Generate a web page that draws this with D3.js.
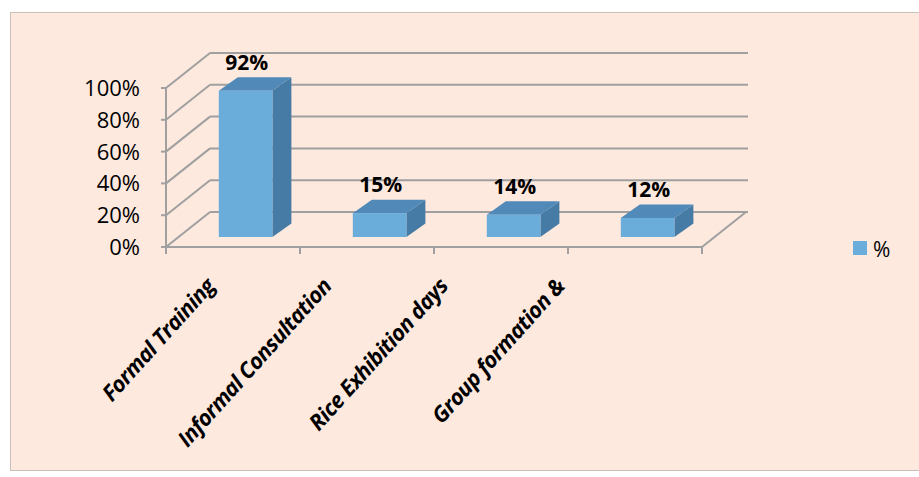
<!DOCTYPE html>
<html>
<head>
<meta charset="utf-8">
<script src="https://cdn.jsdelivr.net/npm/d3@7"></script>
<style>
  body { margin: 0; background: #fff; }
  text { font-family: "Open Sans", sans-serif; }
</style>
</head>
<body>
<div id="chart"></div>
<script>
// data
const categories = ["Formal Training", "Informal Consultation", "Rice Exhibition days", "Group formation &"];
const values = [0.92, 0.15, 0.14, 0.12];
const valueLabels = ["92%", "15%", "14%", "12%"];
const tickValues = [0, 0.2, 0.4, 0.6, 0.8, 1.0];
const seriesName = "%";

const W = 919, H = 477;
const svg = d3.select("#chart").append("svg")
    .attr("width", W)
    .attr("height", H);

// chart area background + border
svg.append("rect")
    .attr("x", 10.5).attr("y", 12.5)
    .attr("width", 920).attr("height", 458)
    .attr("fill", "#fde9de")
    .attr("stroke", "#c9c0b8")
    .attr("stroke-width", 1);

// front plane of the 3D box
const x = d3.scaleBand()
    .domain(categories)
    .range([166, 702])
    .paddingInner(0)
    .paddingOuter(0);

const y = d3.scaleLinear()
    .domain([0, 1])
    .range([247, 88]);

// depth offset from front to back wall
const depth = {dx: 44, dy: -35};
const gridColor = "#a0a0a0";

const grid = svg.append("g");

// back wall horizontal lines
grid.selectAll(".back")
    .data(tickValues)
    .join("line")
    .attr("x1", 166 + depth.dx)
    .attr("x2", 702 + depth.dx + 2)
    .attr("y1", d => y(d) + depth.dy)
    .attr("y2", d => y(d) + depth.dy)
    .attr("stroke", gridColor)
    .attr("stroke-width", 2);

// side wall diagonals
grid.selectAll(".side")
    .data(tickValues)
    .join("line")
    .attr("x1", 166)
    .attr("x2", 166 + depth.dx)
    .attr("y1", d => y(d))
    .attr("y2", d => y(d) + depth.dy)
    .attr("stroke", gridColor)
    .attr("stroke-width", 2);

// floor: front edge and right edge
grid.append("line")
    .attr("x1", 166).attr("x2", 702)
    .attr("y1", y(0)).attr("y2", y(0))
    .attr("stroke", gridColor).attr("stroke-width", 2);
grid.append("line")
    .attr("x1", 702).attr("x2", 702 + depth.dx)
    .attr("y1", y(0)).attr("y2", y(0) + depth.dy)
    .attr("stroke", gridColor).attr("stroke-width", 2);

// vertical value axis
grid.append("line")
    .attr("x1", 166).attr("x2", 166)
    .attr("y1", y(1)).attr("y2", y(0) + 6)
    .attr("stroke", gridColor).attr("stroke-width", 2);

// value ticks
grid.selectAll(".ytick")
    .data(tickValues)
    .join("line")
    .attr("x1", 161).attr("x2", 166)
    .attr("y1", d => y(d)).attr("y2", d => y(d))
    .attr("stroke", gridColor).attr("stroke-width", 2);

// category tick marks
const catTicks = categories.map(c => x(c)).concat([x(categories[categories.length - 1]) + x.bandwidth()]);
grid.selectAll(".xtick")
    .data(catTicks)
    .join("line")
    .attr("x1", d => d).attr("x2", d => d)
    .attr("y1", y(0)).attr("y2", y(0) + 7)
    .attr("stroke", gridColor).attr("stroke-width", 2);

// value tick labels
svg.append("g").selectAll("text")
    .data(tickValues)
    .join("text")
    .attr("x", 140)
    .attr("y", d => y(d) + 8)
    .attr("text-anchor", "end")
    .attr("font-size", 22)
    .attr("fill", "#000")
    .text(d => d3.format(".0%")(d));

// bars
const barShift = {dx: 12.6, dy: -10};   // bars sit a bit behind the front plane
const barDepth = {dx: 19, dy: -13.5};
const barW = x.bandwidth() * 0.4;
const yBar = y.copy().range([y(0) + barShift.dy, y(1) + barShift.dy]);

const bars = svg.append("g").selectAll("g")
    .data(categories.map((c, i) => ({c, v: values[i], label: valueLabels[i]})))
    .join("g");

bars.each(function (d) {
    const g = d3.select(this);
    const x0 = x(d.c) + (x.bandwidth() - barW) / 2 + barShift.dx;
    const x1 = x0 + barW;
    const yT = yBar(d.v), yB = yBar(0);
    // side face
    g.append("path")
        .attr("d", `M${x1},${yT}L${x1 + barDepth.dx},${yT + barDepth.dy}L${x1 + barDepth.dx},${yB + barDepth.dy}L${x1},${yB}Z`)
        .attr("fill", "#467ba5");
    // top face
    g.append("path")
        .attr("d", `M${x0},${yT}L${x0 + barDepth.dx},${yT + barDepth.dy}L${x1 + barDepth.dx},${yT + barDepth.dy}L${x1},${yT}Z`)
        .attr("fill", "#5189b9");
    // front face
    g.append("rect")
        .attr("x", x0).attr("y", yT)
        .attr("width", barW).attr("height", yB - yT)
        .attr("fill", "#6badda");
    // value label
    g.append("text")
        .attr("x", (x0 + x1) / 2 + 1)
        .attr("y", yT - 21)
        .attr("text-anchor", "middle")
        .attr("font-size", 21)
        .attr("font-weight", "bold")
        .attr("fill", "#000")
        .text(d.label);
});

// category labels (rotated)
const xLabel = d3.scalePoint()
    .domain(categories)
    .range([216, 566]);

svg.append("g").selectAll("text")
    .data(categories)
    .join("text")
    .attr("transform", d => `translate(${xLabel(d)},${287}) rotate(-48)`)
    .attr("text-anchor", "end")
    .attr("font-size", 22)
    .attr("font-weight", "bold")
    .attr("font-style", "italic")
    .attr("letter-spacing", -0.6)
    .attr("fill", "#000")
    .text(d => d);

// legend
const legend = svg.append("g");
legend.append("rect")
    .attr("x", 853).attr("y", 241)
    .attr("width", 14).attr("height", 14)
    .attr("fill", "#6badda");
legend.append("text")
    .attr("x", 873).attr("y", 257)
    .attr("font-size", 21)
    .attr("fill", "#000")
    .text(seriesName);
</script>
</body>
</html>
